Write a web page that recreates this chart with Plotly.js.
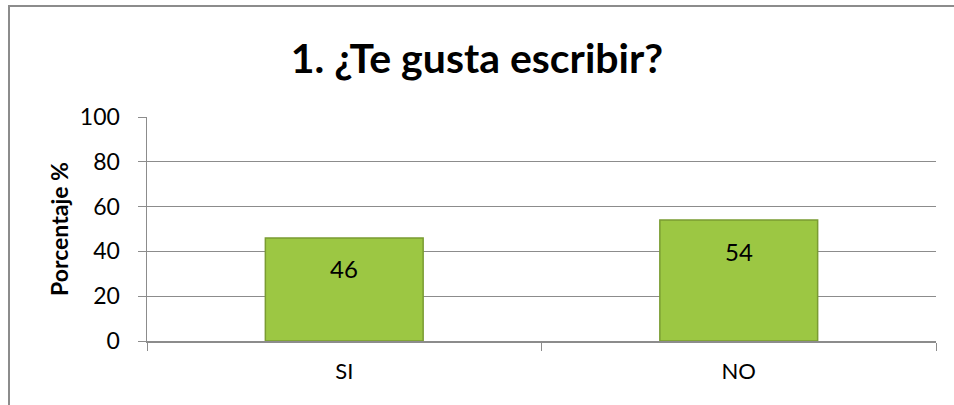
<!DOCTYPE html>
<html>
<head>
<meta charset="utf-8">
<script src="https://cdn.plot.ly/plotly-3.0.1.min.js"></script>
<style>
  html, body { margin: 0; padding: 0; background: #fff; overflow: hidden; }
  #frame { position: absolute; left: 8px; top: 5px; width: 960px; height: 420px;
           border-left: 2px solid #8c8c8c; border-top: 2px solid #8c8c8c; }
  #chart { position: absolute; left: 0; top: 0; width: 954px; height: 405px; }
</style>
</head>
<body>
<div id="frame"></div>
<div id="chart"></div>
<script>
// ===== Data =====
const categories = ['SI', 'NO'];
const percentages = [46, 54];
const yTicks = [0, 20, 40, 60, 80, 100];

const FONT = 'Lato, "Open Sans", "DejaVu Sans", sans-serif';

function createChart() {
    const trace = {
        x: categories,
        y: percentages,
        type: 'bar',
        width: 0.4,
        marker: {
            color: '#9cc743',
            line: { color: '#7a9c32', width: 1.5 }
        },
        hoverinfo: 'none'
    };

    // data labels sit inside the bar, near its top
    const labels = categories.map((c, i) => ({
        x: c,
        y: percentages[i],
        xref: 'x',
        yref: 'y',
        text: String(percentages[i]),
        showarrow: false,
        yshift: -31,
        font: { family: FONT, size: 24, color: '#000' }
    }));

    const layout = {
        width: 954,
        height: 405,
        title: {
            text: '<b>1. ¿Te gusta escribir?</b>',
            font: { family: FONT, size: 41, color: '#000' },
            x: 0.5,
            xanchor: 'center',
            y: 0.855,
            yanchor: 'middle'
        },
        xaxis: {
            type: 'category',
            showline: true,
            linecolor: '#8c8c8c',
            linewidth: 1.5,
            ticks: 'outside',
            tickson: 'boundaries',
            ticklen: 8,
            tickcolor: '#8c8c8c',
            showgrid: false,
            ticklabelstandoff: 10,
            tickfont: { family: FONT, size: 22, color: '#000' }
        },
        yaxis: {
            range: [0, 100],
            tickvals: yTicks,
            ticktext: yTicks.map(String),
            showline: true,
            linecolor: '#8c8c8c',
            linewidth: 1.5,
            ticks: 'outside',
            ticklen: 8,
            tickcolor: '#8c8c8c',
            showgrid: true,
            gridcolor: '#8c8c8c',
            gridwidth: 1,
            zeroline: false,
            ticklabelstandoff: 13,
            tickfont: { family: FONT, size: 23, color: '#000' },
            title: {
                text: '<b>Porcentaje %</b>',
                font: { family: FONT, size: 23, color: '#000' },
                standoff: 5
            }
        },
        annotations: labels,
        bargap: 0.6,
        plot_bgcolor: 'rgba(0,0,0,0)',
        paper_bgcolor: 'rgba(0,0,0,0)',
        margin: { t: 117, b: 64, l: 147, r: 18 },
        showlegend: false
    };

    Plotly.newPlot('chart', [trace], layout, { displayModeBar: false, staticPlot: true });
}

createChart();
</script>
</body>
</html>
